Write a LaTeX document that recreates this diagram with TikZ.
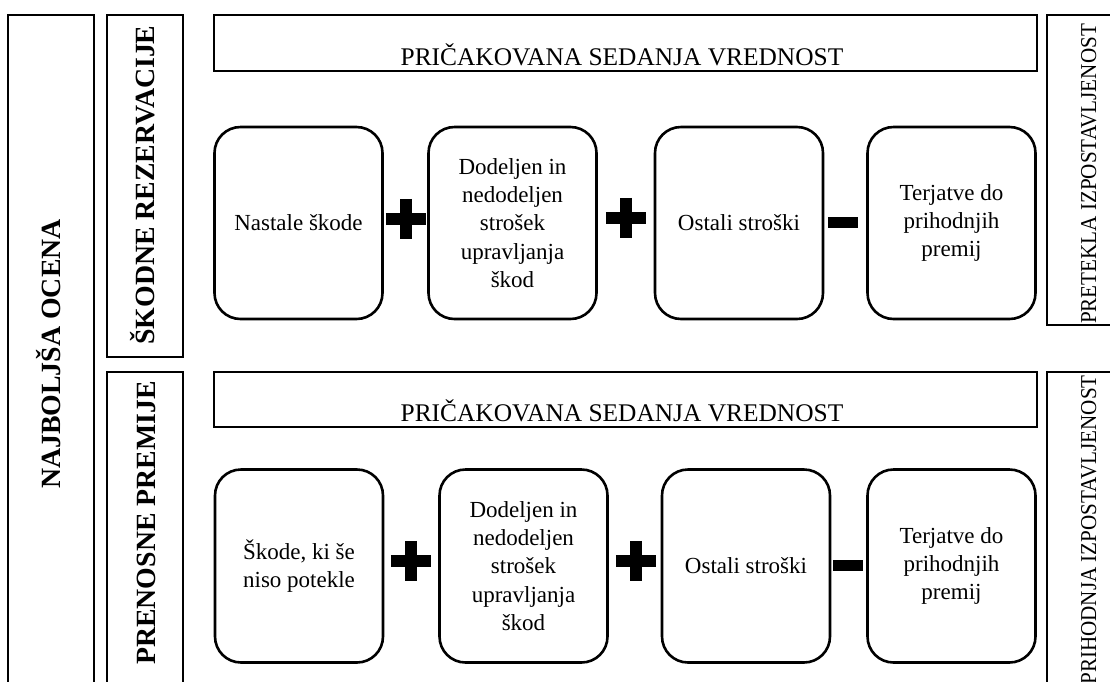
\documentclass[tikz,border=0pt]{standalone}
\usepackage{fontspec}
\usepackage{graphicx}
\setmainfont{Liberation Serif}
\usetikzlibrary{positioning}
\newcommand{\boxfont}{\fontsize{23}{28.3}\selectfont}
\newcommand{\headfont}{\fontsize{25.4}{28}\selectfont}
\newcommand{\sidefont}{\fontsize{27.8}{32}\selectfont\bfseries}
\newcommand{\expfont}{\fontsize{22.7}{27}\selectfont}

\begin{document}
\begin{tikzpicture}[
                x=1pt, y=-1pt,
                panel/.style={
                    draw=black,
                    line width=2.6pt,
                    inner sep=0pt,
                },
                term/.style={
                    panel,
                    rounded corners=26pt,
                    minimum width=168pt,
                    minimum height=192pt,
                    align=center,
                    font=\boxfont,
                },
                heading/.style={
                    panel,
                    minimum width=823pt,
                    minimum height=56pt,
                },
                headtext/.style={
                    anchor=base,
                    inner sep=0pt,
                    font=\headfont,
                },
                sidetext/.style={
                    rotate=90,
                    anchor=base,
                    inner sep=0pt,
                    font=\sidefont,
                },
                exposure/.style={
                    rotate=90,
                    anchor=base,
                    inner sep=0pt,
                    font=\expfont,
                },
                plussign/.style={
                    minimum size=40pt,
                    inner sep=0pt,
                },
                bar/.style={
                    line width=12pt,
                },
                minussign/.style={
                    fill=black,
                    minimum width=30pt,
                    minimum height=11pt,
                    inner sep=0pt,
                },
            ]
            \clip (0,0) rectangle (1110,681);

            \node [panel, minimum width=86pt, minimum height=680pt] (best) at (51,355) {};
            \node [panel, minimum width=76pt, minimum height=342pt] (skodne) at (145,186) {};
            \node [panel, minimum width=76pt, minimum height=328pt] (prenosne) at (145,536) {};
            \node [panel, minimum width=83pt, minimum height=310pt] (pretekla) at (1088.5,170) {};
            \node [panel, minimum width=83pt, minimum height=328pt] (prihodnja) at (1088.5,536) {};

            \node [sidetext] (bestText) at (60,354) {NAJBOLJŠA OCENA};
            \node [sidetext] (skodneText) at (154,185) {ŠKODNE REZERVACIJE};
            \node [sidetext] (prenosneText) at (155,523) {PRENOSNE PREMIJE};
            \node [exposure] (preteklaText) at (1096,174)
                {\scalebox{0.93}[1]{PRETEKLA IZPOSTAVLJENOST}};
            \node [exposure] (prihodnjaText) at (1096,530)
                {\scalebox{0.93}[1]{PRIHODNJA IZPOSTAVLJENOST}};

            \node [heading] (psvTop) at (625.5,43) {};
            \node [headtext] (psvTopText) at (622,65) {PRIČAKOVANA SEDANJA VREDNOST};
            \node [heading, minimum height=55pt] (psvBottom) at (625.5,399.5) {};
            \node [headtext] (psvBottomText) at (622,421) {PRIČAKOVANA SEDANJA VREDNOST};

            \node [term] (nastale) at (298.5,223) {Nastale škode};
            \node [term] (dodeljenA) at (512.5,223)
                {Dodeljen in\\nedodeljen\\strošek\\upravljanja\\škod};
            \node [term] (ostaliA) at (739,223) {Ostali stroški};
            \node [term] (terjatveA) at (951.5,223) {Terjatve do\\prihodnjih\\premij};

            \node [term, minimum height=193pt] (skode) at (299,566) {Škode, ki še\\niso potekle};
            \node [term, minimum height=193pt] (dodeljenB) at (523.5,566)
                {Dodeljen in\\nedodeljen\\strošek\\upravljanja\\škod};
            \node [term, minimum height=193pt] (ostaliB) at (746,566) {Ostali stroški};
            \node [term, minimum height=193pt] (terjatveB) at (951.5,566) {Terjatve do\\prihodnjih\\premij};

            \node [plussign] (plusA) at (406,219) {};
            \node [plussign] (plusB) at (626,218) {};
            \node [minussign] (minusA) at (843,222) {};
            \node [plussign] (plusC) at (411,561) {};
            \node [plussign] (plusD) at (636,561) {};
            \node [minussign] (minusB) at (848,565) {};

            \foreach \p in {plusA, plusB, plusC, plusD}
                \draw [bar] (\p.west) -- (\p.east) (\p.north) -- (\p.south);
        \end{tikzpicture}
\end{document}
